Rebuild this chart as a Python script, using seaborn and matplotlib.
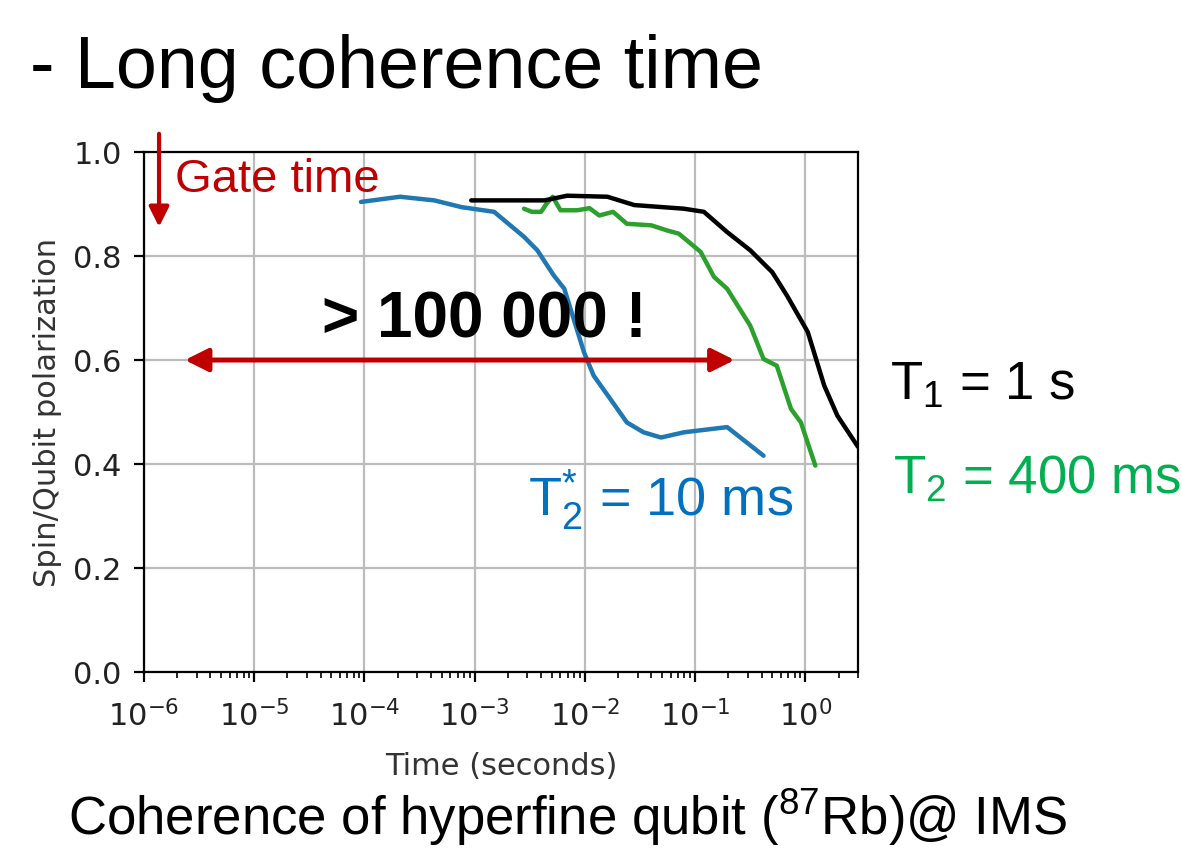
import matplotlib
matplotlib.use('Agg')
import matplotlib.pyplot as plt
import seaborn as sns
import pandas as pd

# ---- data (time in seconds, polarization) ----
t2star_time = [9.3e-5, 2.1e-4, 4.3e-4, 7.6e-4, 1.5e-3, 2.8e-3, 3.7e-3, 5.2e-3, 6.5e-3,
               7.9e-3, 9.8e-3, 1.2e-2, 1.7e-2, 2.4e-2, 3.4e-2, 4.9e-2, 7.9e-2, 0.195, 0.417]
t2star_pol = [0.904, 0.914, 0.907, 0.894, 0.885, 0.837, 0.811, 0.763, 0.737,
              0.679, 0.615, 0.570, 0.525, 0.480, 0.461, 0.451, 0.461, 0.471, 0.416]

t2_time = [2.8e-3, 3.3e-3, 4.0e-3, 4.5e-3, 5.1e-3, 6.0e-3, 8.5e-3, 1.1e-2, 1.35e-2, 1.8e-2,
           2.4e-2, 4.0e-2, 5.6e-2, 7.1e-2, 0.112, 0.148, 0.195, 0.316, 0.417, 0.55, 0.74, 0.91, 1.23]
t2_pol = [0.891, 0.885, 0.885, 0.901, 0.914, 0.888, 0.888, 0.892, 0.878, 0.885,
          0.862, 0.859, 0.849, 0.843, 0.808, 0.760, 0.737, 0.666, 0.602, 0.589, 0.506, 0.480, 0.397]

t1_time = [9.3e-4, 4.3e-3, 6.9e-3, 1.6e-2, 2.8e-2, 7.9e-2, 0.12, 0.195, 0.316, 0.50, 0.68,
           1.05, 1.48, 1.95, 3.0]
t1_pol = [0.907, 0.907, 0.916, 0.914, 0.898, 0.891, 0.885, 0.846, 0.811, 0.769, 0.724,
          0.654, 0.551, 0.493, 0.433]

x_ticks = [1e-6, 1e-5, 1e-4, 1e-3, 1e-2, 1e-1, 1e0]
y_ticks = [0.0, 0.2, 0.4, 0.6, 0.8, 1.0]

title_text = "- Long coherence time"
caption_text = r"Coherence of hyperfine qubit ($^\mathrm{87}$Rb)@ IMS"
gate_text = "Gate time"
ratio_text = "> 100 000 !"
t1_text = r"T$_\mathrm{1}$ = 1 s"
t2_text = r"T$_\mathrm{2}$ = 400 ms"
t2s_text = r"T$_\mathrm{2}^{*}$ = 10 ms"

# ---- style ----
sns.set_style("ticks")
plt.rcParams['font.family'] = ['DejaVu Sans']
plt.rcParams['mathtext.fontset'] = 'dejavusans'
plt.rcParams['mathtext.rm'] = 'Liberation Sans'
plt.rcParams['mathtext.it'] = 'Liberation Sans:italic'
plt.rcParams['mathtext.bf'] = 'Liberation Sans:bold'
plt.rcParams['mathtext.sf'] = 'Liberation Sans'

RED = '#C00000'
BLUE_TXT = '#0070C0'
GREEN_TXT = '#00B050'
SANS = 'Liberation Sans'

fig = plt.figure(figsize=(11.82, 8.55), dpi=100)
ax = fig.add_axes([0.1218, 0.2140, 0.6041, 0.6082])

df_t2s = pd.DataFrame({'time': t2star_time, 'pol': t2star_pol})
df_t2 = pd.DataFrame({'time': t2_time, 'pol': t2_pol})
df_t1 = pd.DataFrame({'time': t1_time, 'pol': t1_pol})

sns.lineplot(data=df_t2s, x='time', y='pol', ax=ax, color='#1f77b4', lw=3.2, estimator=None)
sns.lineplot(data=df_t2, x='time', y='pol', ax=ax, color='#2ca02c', lw=3.2, estimator=None)
sns.lineplot(data=df_t1, x='time', y='pol', ax=ax, color='black', lw=3.2, estimator=None)

ax.set_xscale('log')
ax.set_xlim(1e-6, 3)
ax.set_ylim(0, 1.0)
ax.set_xticks(x_ticks)
ax.set_yticks(y_ticks)
ax.grid(True, which='major', color='#bcbcbc', lw=1.6)
ax.set_axisbelow(True)
for s in ax.spines.values():
    s.set_visible(True)
    s.set_linewidth(1.6)
    s.set_color('black')
ax.tick_params(axis='both', which='major', labelsize=22, length=7, width=1.6,
               labelcolor='#222222', color='black')
ax.tick_params(axis='x', which='major', pad=13)
ax.tick_params(axis='y', which='major', pad=9)
ax.tick_params(axis='x', which='minor', length=4, width=1.2, color='black')
ax.set_xlabel('Time (seconds)', fontsize=22, color='#333333', labelpad=14)
ax.set_ylabel('Spin/Qubit polarization', fontsize=22, color='#333333', labelpad=8)

# ---- annotations inside the chart ----
ax.annotate('', xy=(1.37e-6, 0.856), xytext=(1.37e-6, 1.035), xycoords='data',
            annotation_clip=False,
            arrowprops=dict(arrowstyle='-|>,head_length=0.6,head_width=0.3', color=RED,
                            lw=3, mutation_scale=20, shrinkA=0, shrinkB=0))
ax.text(1.9e-6, 0.923, gate_text, color=RED, fontsize=34, family=SANS, va='baseline', ha='left')

ax.annotate('', xy=(2.35e-6, 0.6), xytext=(0.228, 0.6), xycoords='data',
            arrowprops=dict(arrowstyle='<|-|>,head_length=0.7,head_width=0.35', color=RED,
                            lw=3.6, mutation_scale=20, shrinkA=0, shrinkB=0))
ax.text(4.1e-5, 0.644, ratio_text, color='black', fontsize=46, fontweight='bold',
        family=SANS, va='baseline', ha='left')

ax.text(3.03e-3, 0.30, t2s_text, color=BLUE_TXT, fontsize=39, family=SANS,
        math_fontfamily='custom', va='baseline', ha='left', clip_on=False)

# ---- texts outside the axes ----
fig.text(30 / 1182, 1 - 88 / 855, title_text, fontsize=53, family=SANS, color='black',
         va='baseline', ha='left')
fig.text(890 / 1182, 1 - 400 / 855, t1_text, fontsize=38, family=SANS, color='black',
         math_fontfamily='custom', va='baseline', ha='left')
fig.text(893 / 1182, 1 - 494 / 855, t2_text, fontsize=38, family=SANS, color=GREEN_TXT,
         math_fontfamily='custom', va='baseline', ha='left')
fig.text(68 / 1182, 1 - 835 / 855, caption_text, fontsize=38, family=SANS, color='black',
         math_fontfamily='custom', va='baseline', ha='left')

fig.savefig('out.png', dpi=100)
